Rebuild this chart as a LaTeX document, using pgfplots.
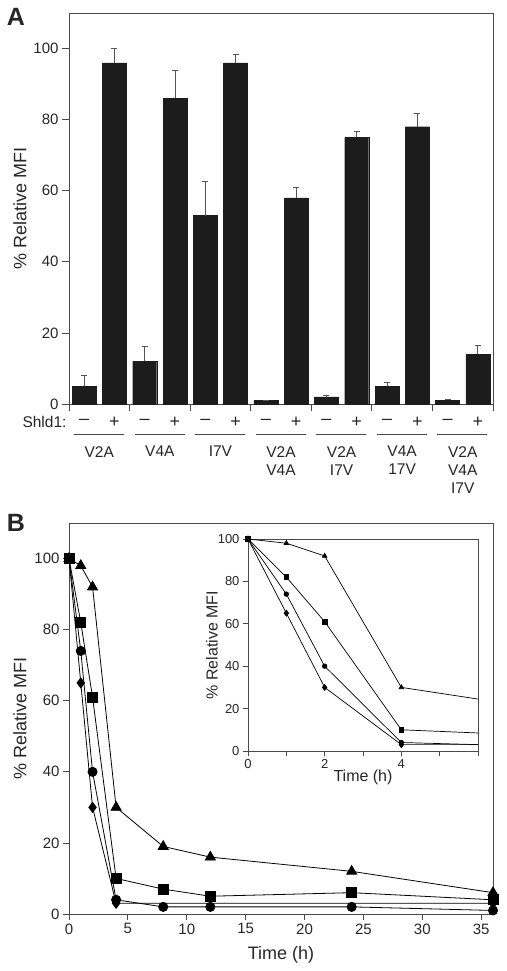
\documentclass[border=0pt]{standalone}
\usepackage{pgfplots}
\usepackage{pgfplotstable}
\pgfplotsset{compat=1.18}
\usepackage{fontspec}
\setmainfont{Liberation Sans}
\definecolor{axisgray}{HTML}{4A4A4A}
\definecolor{barblack}{HTML}{1C1C1C}
\definecolor{errgray}{HTML}{555555}

\pgfplotstableread{
x y e
0.5 5 3
1.5 96 4
2.5 12 4.3
3.5 86 7.7
4.5 53 9.6
5.5 96 2.4
6.5 1 0
7.5 58 3
8.5 2 0.3
9.5 75 1.6
10.5 5 1.2
11.5 78 3.6
12.5 1 0.3
13.5 14 2.4
}\barsA

\pgfplotstableread{
t v
0 100
1 98
2 92
4 30
8 19
12 16
24 12
36 6
}\serTri
\pgfplotstableread{
t v
0 100
1 82
2 61
4 10
8 7
12 5
24 6
36 4
}\serSq
\pgfplotstableread{
t v
0 100
1 74
2 40
4 4
8 2
12 2
24 2
36 1
}\serCirc
\pgfplotstableread{
t v
0 100
1 65
2 30
4 3
36 3
}\serDia

\tikzset{
  sgn/.style={font=\fontsize{18}{20}\selectfont, text=black!85},
  grp/.style={anchor=north, align=center, inner sep=0pt, font=\fontsize{15.5}{18}\selectfont, text=black!85},
}

\begin{document}
\begin{tikzpicture}
\useasboundingbox (0pt,0pt) rectangle (506pt,971pt);
\pgfplotsset{
  every axis/.append style={
    scale only axis,
    /pgf/number format/assume math mode=true,
    axis line style={draw=axisgray, line width=0.8pt},
    every tick/.style={draw=axisgray, line width=0.8pt},
    tick align=outside,
    tick pos=left,
    major tick length=6pt,
    ticklabel style={font=\fontsize{15}{17}\selectfont, text=black!85},
    label style={font=\fontsize{18}{21}\selectfont, text=black!85},
    clip=false,
  }
}
% ---------- Panel A ----------
\node[font=\bfseries\fontsize{25}{28}\selectfont, text=black!85] at (16pt,954pt) {A};
\begin{axis}[
  at={(69pt,567pt)}, anchor=south west,
  width=424pt, height=391pt,
  xmin=0, xmax=14, ymin=0, ymax=110,
  xtick={0,2,...,14}, xticklabels={},
  ytick={0,20,...,100},
  major tick length=7pt,
  ylabel={\% Relative MFI},
  ylabel style={at={(axis description cs:-0.1156,0.5)}, anchor=center},
]
\addplot[ybar, bar width=24pt, fill=barblack, draw=barblack,
  error bars/.cd, y dir=plus, y explicit,
  error bar style={draw=errgray, line width=0.9pt},
  error mark options={rotate=90, draw=errgray, mark size=3pt, line width=0.9pt}]
  table[x=x, y=y, y error=e] {\barsA};
% Shld1 row
\path (axis cs:0,0) ++(1pt,-18pt) node[anchor=east, font=\fontsize{15.5}{18}\selectfont, text=black!85] {Shld1:};
\path (axis cs:0.5,0) ++(0pt,-18pt) node[sgn] {–};
\path (axis cs:1.5,0) ++(0pt,-18pt) node[sgn] {+};
\path (axis cs:2.5,0) ++(0pt,-18pt) node[sgn] {–};
\path (axis cs:3.5,0) ++(0pt,-18pt) node[sgn] {+};
\path (axis cs:4.5,0) ++(0pt,-18pt) node[sgn] {–};
\path (axis cs:5.5,0) ++(0pt,-18pt) node[sgn] {+};
\path (axis cs:6.5,0) ++(0pt,-18pt) node[sgn] {–};
\path (axis cs:7.5,0) ++(0pt,-18pt) node[sgn] {+};
\path (axis cs:8.5,0) ++(0pt,-18pt) node[sgn] {–};
\path (axis cs:9.5,0) ++(0pt,-18pt) node[sgn] {+};
\path (axis cs:10.5,0) ++(0pt,-18pt) node[sgn] {–};
\path (axis cs:11.5,0) ++(0pt,-18pt) node[sgn] {+};
\path (axis cs:12.5,0) ++(0pt,-18pt) node[sgn] {–};
\path (axis cs:13.5,0) ++(0pt,-18pt) node[sgn] {+};
% group underlines
\draw[axisgray, line width=1pt] (axis cs:0,0) ++(5pt,-31pt) -- ++(50pt,0pt);
\draw[axisgray, line width=1pt] (axis cs:2,0) ++(5pt,-31pt) -- ++(50pt,0pt);
\draw[axisgray, line width=1pt] (axis cs:4,0) ++(5pt,-31pt) -- ++(50pt,0pt);
\draw[axisgray, line width=1pt] (axis cs:6,0) ++(5pt,-31pt) -- ++(50pt,0pt);
\draw[axisgray, line width=1pt] (axis cs:8,0) ++(5pt,-31pt) -- ++(50pt,0pt);
\draw[axisgray, line width=1pt] (axis cs:10,0) ++(5pt,-31pt) -- ++(50pt,0pt);
\draw[axisgray, line width=1pt] (axis cs:12,0) ++(5pt,-31pt) -- ++(50pt,0pt);
% group names
\path (axis cs:1,0) ++(0pt,-42pt) node[grp] {V2A};
\path (axis cs:3,0) ++(0pt,-42pt) node[grp] {V4A};
\path (axis cs:5,0) ++(0pt,-42pt) node[grp] {I7V};
\path (axis cs:7,0) ++(0pt,-42pt) node[grp] {V2A\\V4A};
\path (axis cs:9,0) ++(0pt,-42pt) node[grp] {V2A\\I7V};
\path (axis cs:11,0) ++(0pt,-42pt) node[grp] {V4A\\17V};
\path (axis cs:13,0) ++(0pt,-42pt) node[grp] {V2A\\V4A\\I7V};
\end{axis}

% ---------- Panel B ----------
\node[font=\bfseries\fontsize{25}{28}\selectfont, text=black!85] at (16pt,448pt) {B};
\begin{axis}[
  at={(69pt,57pt)}, anchor=south west,
  width=424pt, height=391pt,
  xmin=0, xmax=36, ymin=0, ymax=110,
  xtick={0,5,...,35},
  ytick={0,20,...,100},
  xlabel={Time (h)},
  ylabel={\% Relative MFI},
  xlabel style={at={(axis description cs:0.5,-0.105)}, anchor=center},
  ylabel style={at={(axis description cs:-0.1156,0.5)}, anchor=center},
]
\addplot[black, line width=0.8pt, mark=diamond*, mark size=5pt, mark options={solid, fill=black}] table[x=t,y=v] {\serDia};
\addplot[black, line width=0.8pt, mark=*, mark size=4.6pt, mark options={solid, fill=black}] table[x=t,y=v] {\serCirc};
\addplot[black, line width=0.8pt, mark=square*, mark size=5pt, mark options={solid, fill=black}] table[x=t,y=v] {\serSq};
\addplot[black, line width=0.8pt, mark=triangle*, mark size=5.8pt, mark options={solid, fill=black}] table[x=t,y=v] {\serTri};
\end{axis}

% ---------- Inset ----------
\begin{axis}[
  at={(248pt,220pt)}, anchor=south west,
  width=230pt, height=212pt,
  xmin=0, xmax=6, ymin=0, ymax=100,
  clip=true,
  xtick={0,1,...,6}, xticklabels={0,,2,,4,,},
  ytick={0,20,...,100},
  major tick length=5pt,
  ticklabel style={font=\fontsize{13}{15}\selectfont},
  label style={font=\fontsize{16}{19}\selectfont},
  xlabel={Time (h)},
  ylabel={\% Relative MFI},
  xlabel style={at={(axis description cs:0.5,-0.125)}, anchor=center},
  ylabel style={at={(axis description cs:-0.157,0.5)}, anchor=center},
]
\addplot[black, line width=0.7pt, mark=diamond*, mark size=3pt, mark indices={1,2,3,4}, mark options={solid, fill=black}] table[x=t,y=v] {\serDia};
\addplot[black, line width=0.7pt, mark=*, mark size=2.3pt, mark indices={1,2,3,4}, mark options={solid, fill=black}] table[x=t,y=v] {\serCirc};
\addplot[black, line width=0.7pt, mark=square*, mark size=2.4pt, mark indices={1,2,3,4}, mark options={solid, fill=black}] table[x=t,y=v] {\serSq};
\addplot[black, line width=0.7pt, mark=triangle*, mark size=2.6pt, mark indices={1,2,3,4}, mark options={solid, fill=black}] table[x=t,y=v] {\serTri};
\end{axis}
\end{tikzpicture}
\end{document}
